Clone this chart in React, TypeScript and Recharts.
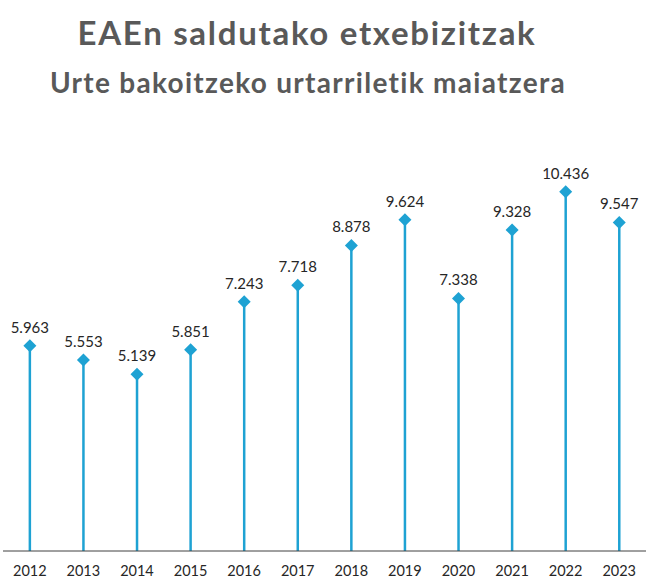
import { ComposedChart, Bar, XAxis, YAxis } from "recharts";

const years = ["2012", "2013", "2014", "2015", "2016", "2017", "2018", "2019", "2020", "2021", "2022", "2023"];
const sales = [5963, 5553, 5139, 5851, 7243, 7718, 8878, 9624, 7338, 9328, 10436, 9547];

const data = years.map((year, i) => ({ year, sales: sales[i] }));

const BLUE = "#1ea2d3";
const fmt = (v: number) => v.toLocaleString("de-DE");

const Lollipop = (props: any) => {
  const { x, y, width, height, value } = props;
  const cx = x + width / 2;
  const base = y + height;
  const v = Array.isArray(value) ? value[1] : value;
  return (
    <g>
      <line x1={cx} x2={cx} y1={base} y2={y} stroke={BLUE} strokeWidth={2.5} />
      <path d={`M${cx},${y - 6.5} L${cx + 6.5},${y} L${cx},${y + 6.5} L${cx - 6.5},${y} Z`} fill={BLUE} />
      <text x={cx} y={y - 13} textAnchor="middle" fontSize={15} fill="#262626">
        {fmt(v)}
      </text>
    </g>
  );
};

export default function App() {
  return (
    <div
      style={{
        position: "absolute",
        left: 0,
        top: 0,
        width: 648,
        height: 579,
        background: "#fff",
        fontFamily: "Lato, 'Open Sans', sans-serif",
      }}
    >
      <div style={{ position: "absolute", top: 12, left: 0, width: 614, textAlign: "center", fontSize: 33, letterSpacing: 1.7, fontWeight: 700, color: "#595959", lineHeight: "40px" }}>
        EAEn saldutako etxebizitzak
      </div>
      <div style={{ position: "absolute", top: 64, left: 0, width: 616, textAlign: "center", fontSize: 28, letterSpacing: 1.3, fontWeight: 700, color: "#595959", lineHeight: "36px" }}>
        Urte bakoitzeko urtarriletik maiatzera
      </div>
      <ComposedChart width={648} height={579} data={data} margin={{ top: 138, right: 2, left: 3, bottom: 0 }}>
        <XAxis
          dataKey="year"
          height={28}
          tickLine={false}
          tickSize={0}
          tickMargin={15}
          axisLine={{ stroke: "#404040", strokeWidth: 1 }}
          tick={{ fill: "#262626", fontSize: 14.5 }}
          interval={0}
        />
        <YAxis hide domain={[0, 12000]} />
        <Bar dataKey="sales" isAnimationActive={false} shape={<Lollipop />} />
      </ComposedChart>
    </div>
  );
}
